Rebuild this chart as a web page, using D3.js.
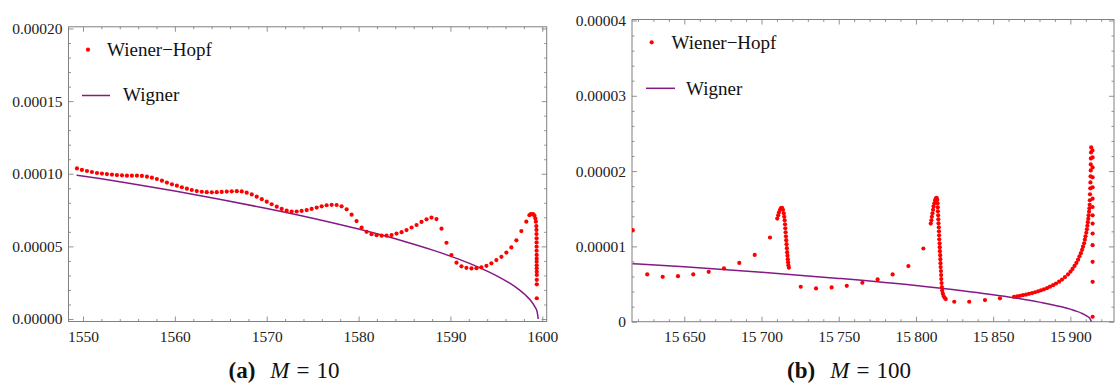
<!DOCTYPE html>
<html>
<head>
<meta charset="utf-8">
<script src="https://cdn.jsdelivr.net/npm/d3@7"></script>
<style>
  body { margin: 0; background: #fff; }
  svg text { font-family: "Liberation Serif", "Times New Roman", serif; }
</style>
</head>
<body>
<svg id="chart" width="1115" height="383"></svg>
<script>
// all y values are in units of 1e-5
const Y_UNIT = 1e-5;
const SERIF = '"Liberation Serif", "Times New Roman", serif';

// (a) M = 10
const wienerHopfM10 = [
  [1549.34, 10.37], [1549.88, 10.26], [1550.43, 10.19], [1550.97, 10.12], [1551.52, 10.05],
  [1552.06, 10.01], [1552.60, 9.98], [1553.15, 9.94], [1553.69, 9.91], [1554.24, 9.89],
  [1554.78, 9.87], [1555.32, 9.87], [1555.87, 9.87], [1556.41, 9.85], [1556.96, 9.80],
  [1557.50, 9.73], [1558.04, 9.64], [1558.59, 9.52], [1559.13, 9.39], [1559.68, 9.27],
  [1560.22, 9.18], [1560.76, 9.07], [1561.31, 8.97], [1561.84, 8.88], [1562.38, 8.81],
  [1562.93, 8.76], [1563.47, 8.73], [1564.02, 8.72], [1564.56, 8.73], [1565.10, 8.75],
  [1565.65, 8.77], [1566.19, 8.79], [1566.74, 8.80], [1567.28, 8.78], [1567.82, 8.70],
  [1568.37, 8.58], [1568.91, 8.42], [1569.46, 8.25], [1570.00, 8.08], [1570.54, 7.90],
  [1571.09, 7.73], [1571.63, 7.58], [1572.17, 7.46], [1572.72, 7.40], [1573.26, 7.40],
  [1573.80, 7.44], [1574.35, 7.50], [1574.89, 7.58], [1575.44, 7.67], [1575.98, 7.76],
  [1576.52, 7.83], [1577.07, 7.86], [1577.61, 7.85], [1578.15, 7.76], [1578.70, 7.55],
  [1579.24, 7.18], [1579.78, 6.74], [1580.33, 6.30], [1580.87, 6.00], [1581.41, 5.84],
  [1581.96, 5.77], [1582.50, 5.74], [1583.05, 5.74], [1583.59, 5.78], [1584.13, 5.88],
  [1584.68, 5.98], [1585.22, 6.12], [1585.77, 6.30], [1586.31, 6.47], [1586.85, 6.68],
  [1587.40, 6.86], [1587.94, 6.98], [1588.48, 6.88], [1589.03, 6.22], [1589.57, 5.25],
  [1590.11, 4.40], [1590.66, 3.88], [1591.20, 3.63], [1591.74, 3.52], [1592.29, 3.48],
  [1592.83, 3.50], [1593.37, 3.56], [1593.92, 3.66], [1594.46, 3.83], [1595.00, 4.06],
  [1595.55, 4.28], [1596.09, 4.57], [1596.63, 4.93], [1597.18, 5.42], [1597.72, 6.05],
  [1598.26, 6.70], [1598.60, 7.15], [1598.75, 7.22], [1598.90, 7.23], [1599.05, 7.20],
  [1599.15, 7.10], [1599.25, 6.92], [1599.30, 6.70], [1599.35, 6.40], [1599.37, 6.13],
  [1599.37, 5.85], [1599.38, 5.56], [1599.38, 5.27], [1599.38, 4.98], [1599.38, 4.70],
  [1599.39, 4.41], [1599.39, 4.15], [1599.39, 3.94], [1599.39, 3.70], [1599.39, 3.49],
  [1599.40, 3.25], [1599.40, 3.03], [1599.40, 2.70], [1599.40, 2.39], [1599.40, 1.43]
];
const wignerM10 = [
  [1549.3, 9.90], [1552, 9.65], [1555, 9.35], [1560, 8.81], [1565, 8.23], [1570, 7.61],
  [1575, 6.94], [1580, 6.19], [1585, 5.34], [1588, 4.76], [1590, 4.33], [1592, 3.85],
  [1594, 3.30], [1595.5, 2.82], [1596.5, 2.45], [1597.5, 2.01], [1598.2, 1.63],
  [1598.8, 1.22], [1599.2, 0.84], [1599.45, 0.46], [1599.56, 0]
];

// (b) M = 100
const wienerHopfM100 = [
  [15616.6, 1.215], [15626.0, 0.628], [15636.0, 0.596], [15645.9, 0.605], [15655.8, 0.628],
  [15665.8, 0.662], [15675.7, 0.707], [15685.6, 0.781], [15695.6, 0.887], [15705.5, 1.118],
  // first spike
  [15710.2, 1.370], [15710.8, 1.413], [15711.3, 1.453], [15712.0, 1.486], [15712.6, 1.509],
  [15713.3, 1.513], [15713.9, 1.486], [15714.4, 1.440], [15714.7, 1.393], [15715.0, 1.347],
  [15715.2, 1.294], [15715.4, 1.241], [15715.6, 1.188], [15715.8, 1.135], [15716.0, 1.082],
  [15716.2, 1.029], [15716.4, 0.976], [15716.6, 0.923], [15716.8, 0.877], [15717.0, 0.830],
  [15717.2, 0.791], [15717.4, 0.751], [15717.7, 0.718],
  [15725.4, 0.464], [15735.3, 0.442], [15745.4, 0.455], [15755.2, 0.477], [15765.3, 0.517],
  [15775.2, 0.561], [15784.9, 0.628], [15795.1, 0.738], [15804.8, 0.972],
  // second spike
  [15809.6, 1.303], [15810.0, 1.347], [15810.3, 1.393], [15810.7, 1.440], [15811.1, 1.486],
  [15811.4, 1.532], [15811.9, 1.572], [15812.4, 1.612], [15812.9, 1.638], [15813.4, 1.645],
  [15813.8, 1.619], [15814.0, 1.572], [15814.1, 1.519], [15814.2, 1.466], [15814.4, 1.413],
  [15814.5, 1.360], [15814.6, 1.307], [15814.8, 1.254], [15814.9, 1.201], [15815.0, 1.148],
  [15815.1, 1.095], [15815.3, 1.042], [15815.4, 0.989], [15815.5, 0.936], [15815.7, 0.883],
  [15815.8, 0.830], [15815.9, 0.777], [15816.0, 0.725], [15816.2, 0.672], [15816.3, 0.619],
  [15816.4, 0.566], [15816.6, 0.513], [15816.8, 0.460], [15817.0, 0.413], [15817.4, 0.374],
  [15817.9, 0.340], [15818.6, 0.317], [15819.3, 0.301],
  [15824.8, 0.265], [15834.5, 0.265], [15844.7, 0.287], [15854.4, 0.310],
  // rising branch up to the band edge
  [15863.5, 0.331], [15865.5, 0.338], [15867.4, 0.344], [15869.3, 0.352], [15871.3, 0.360],
  [15873.2, 0.370], [15875.2, 0.380], [15877.1, 0.391], [15879.1, 0.403], [15881.0, 0.416],
  [15882.9, 0.430], [15884.9, 0.446], [15886.8, 0.465], [15888.8, 0.485], [15890.7, 0.507],
  [15892.7, 0.532], [15894.6, 0.560], [15896.5, 0.592], [15898.5, 0.629], [15900.1, 0.665],
  [15901.4, 0.701], [15902.7, 0.740], [15903.9, 0.781], [15905.0, 0.824], [15905.9, 0.868],
  [15906.8, 0.910], [15907.6, 0.954], [15908.2, 0.996], [15908.9, 1.042], [15909.4, 1.089],
  [15909.8, 1.135], [15910.3, 1.181], [15910.7, 1.228], [15911.0, 1.274], [15911.3, 1.321],
  [15911.6, 1.367], [15911.8, 1.413], [15912.1, 1.460], [15912.3, 1.506], [15912.5, 1.552],
  [15912.6, 1.612], [15912.7, 1.691], [15912.9, 1.771], [15913.0, 1.850], [15913.1, 1.930],
  [15913.2, 2.009], [15913.2, 2.089], [15913.3, 2.168], [15913.4, 2.248], [15913.5, 2.314],
  [15914.3, 2.274], [15914.4, 2.181], [15914.4, 2.049], [15914.4, 1.917], [15914.4, 1.784],
  [15914.4, 1.634], [15914.4, 1.523], [15914.4, 1.413], [15914.4, 1.303], [15914.4, 1.171],
  [15914.4, 1.016], [15914.4, 0.795], [15914.4, 0.530], [15914.4, 0.066]
];
const wignerM100 = [
  [15616.5, 0.770], [15650, 0.730], [15700, 0.658], [15750, 0.575], [15800, 0.480],
  [15830, 0.411], [15860, 0.329], [15880, 0.260], [15895, 0.194], [15903, 0.146],
  [15908, 0.106], [15911, 0.071], [15912.8, 0.038], [15913.6, 0]
];

const ticksM10X = [1550, 1560, 1570, 1580, 1590, 1600];
const ticksM10Y = [0, 5, 10, 15, 20];
const ticksM100X = [15650, 15700, 15750, 15800, 15850, 15900];
const ticksM100Y = [0, 1, 2, 3, 4];
const legendLabels = ['Wiener\u2212Hopf', 'Wigner'];
const captionTags = ['(a)', '(b)'];
const captionValues = ['10', '100'];

const svg = d3.select('#chart');

const panels = [
  {
    frame: { left: 68.5, right: 546.7, top: 26.8, bottom: 321.5 },
    xDomain: [1548.42, 1600.48], yDomain: [-0.172, 20.117],
    xMajor: ticksM10X, xMinorStep: 2, yMajor: ticksM10Y, yMinorStep: 1,
    xFormat: d => String(d),
    yFormat: d => (d * Y_UNIT).toFixed(5),
    dots: wienerHopfM10, line: wignerM10,
    legend: { dot: [88, 49.7], text1: [107, 56], line: [82, 110, 95.5], text2: [123, 100.5] },
    caption: { x: 284, y: 378, tag: captionTags[0], value: captionValues[0] }
  },
  {
    frame: { left: 632, right: 1114, top: 19.5, bottom: 321.7 },
    xDomain: [15616.13, 15928.25], yDomain: [0, 4.013],
    xMajor: ticksM100X, xMinorStep: 10, yMajor: ticksM100Y, yMinorStep: 0.2,
    xFormat: d => { const s = String(d); return s.slice(0, 2) + '\u2009' + s.slice(2); },
    yFormat: d => d === 0 ? '0' : (d * Y_UNIT).toFixed(5),
    dots: wienerHopfM100, line: wignerM100,
    legend: { dot: [651.7, 42.3], text1: [671.5, 48.5], line: [646, 675, 88.3], text2: [686, 95] },
    caption: { x: 849, y: 378, tag: captionTags[1], value: captionValues[1] }
  }
];

panels.forEach((p, i) => {
  const f = p.frame;
  const x = d3.scaleLinear().domain(p.xDomain).range([f.left, f.right]);
  const y = d3.scaleLinear().domain(p.yDomain).range([f.bottom, f.top]);
  const g = svg.append('g');

  const xMinor = d3.range(Math.ceil(p.xDomain[0] / p.xMinorStep) * p.xMinorStep, p.xDomain[1], p.xMinorStep)
    .filter(v => !p.xMajor.some(m => Math.abs(m - v) < 1e-6));
  const yMinor = d3.range(0, p.yDomain[1], p.yMinorStep)
    .map(v => +v.toFixed(4))
    .filter(v => !p.yMajor.some(m => Math.abs(m - v) < 1e-6));

  // frame ticks on all four sides, pointing inwards
  const addAxis = (axis, transform, labels) => {
    const a = g.append('g').attr('transform', transform).call(axis)
      .attr('font-family', SERIF).attr('font-size', 15.5);
    a.select('.domain').remove();
    a.selectAll('line').attr('stroke', '#777').attr('stroke-width', 0.8);
    if (!labels) a.selectAll('text').remove();
    else a.selectAll('text').attr('fill', '#222').style('font-family', SERIF);
    return a;
  };
  addAxis(d3.axisBottom(x).tickValues(p.xMajor).tickSize(-5).tickPadding(9).tickFormat(p.xFormat), `translate(0,${f.bottom})`, true);
  addAxis(d3.axisBottom(x).tickValues(xMinor).tickSize(-2.5), `translate(0,${f.bottom})`, false);
  addAxis(d3.axisTop(x).tickValues(p.xMajor).tickSize(-5), `translate(0,${f.top})`, false);
  addAxis(d3.axisTop(x).tickValues(xMinor).tickSize(-2.5), `translate(0,${f.top})`, false);
  addAxis(d3.axisLeft(y).tickValues(p.yMajor).tickSize(-5).tickPadding(6).tickFormat(p.yFormat), `translate(${f.left},0)`, true);
  addAxis(d3.axisLeft(y).tickValues(yMinor).tickSize(-2.5), `translate(${f.left},0)`, false);
  addAxis(d3.axisRight(y).tickValues(p.yMajor).tickSize(-5), `translate(${f.right},0)`, false);
  addAxis(d3.axisRight(y).tickValues(yMinor).tickSize(-2.5), `translate(${f.right},0)`, false);

  g.append('rect')
    .attr('x', f.left).attr('y', f.top)
    .attr('width', f.right - f.left).attr('height', f.bottom - f.top)
    .attr('fill', 'none').attr('stroke', '#808080').attr('stroke-width', 1);

  const clipId = 'clip' + i;
  svg.append('clipPath').attr('id', clipId).append('rect')
    .attr('x', f.left).attr('y', f.top)
    .attr('width', f.right - f.left).attr('height', f.bottom - f.top);

  const plot = g.append('g').attr('clip-path', `url(#${clipId})`);

  plot.append('path')
    .datum(p.line)
    .attr('fill', 'none')
    .attr('stroke', '#851a85')
    .attr('stroke-width', 1.5)
    .attr('d', d3.line().x(d => x(d[0])).y(d => y(d[1])).curve(d3.curveMonotoneX));

  plot.selectAll('.dot')
    .data(p.dots)
    .enter().append('circle')
    .attr('class', 'dot')
    .attr('cx', d => x(d[0]))
    .attr('cy', d => y(d[1]))
    .attr('r', 2.1)
    .attr('fill', '#ff0000');

  // legend
  const L = p.legend;
  g.append('circle').attr('cx', L.dot[0]).attr('cy', L.dot[1]).attr('r', 2.1).attr('fill', '#ff0000');
  g.append('text').attr('x', L.text1[0]).attr('y', L.text1[1]).attr('font-size', 19).attr('fill', '#111')
    .style('font-family', SERIF).text(legendLabels[0]);
  g.append('line').attr('x1', L.line[0]).attr('x2', L.line[1]).attr('y1', L.line[2]).attr('y2', L.line[2])
    .attr('stroke', '#851a85').attr('stroke-width', 1.5);
  g.append('text').attr('x', L.text2[0]).attr('y', L.text2[1]).attr('font-size', 19).attr('fill', '#111')
    .style('font-family', SERIF).text(legendLabels[1]);

  // caption
  const c = g.append('text')
    .attr('x', p.caption.x).attr('y', p.caption.y)
    .attr('text-anchor', 'middle').attr('font-size', 23).attr('fill', '#111')
    .style('font-family', SERIF);
  c.append('tspan').attr('font-weight', 'bold').text(p.caption.tag);
  c.append('tspan').attr('dx', 15).attr('font-style', 'italic').text('M');
  c.append('tspan').attr('dx', 7).text('=');
  c.append('tspan').attr('dx', 7).text(p.caption.value);
});
</script>
</body>
</html>
